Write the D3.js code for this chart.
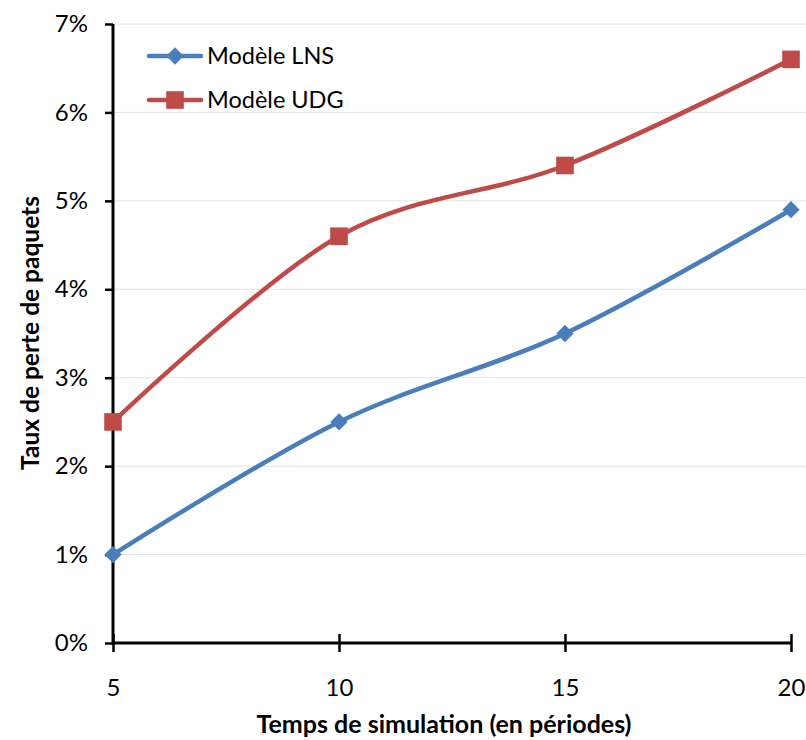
<!DOCTYPE html>
<html><head><meta charset="utf-8">
<script src="https://cdn.jsdelivr.net/npm/d3@7"></script>
<style>body{margin:0;background:#fff}svg{display:block}text{font-family:Lato,"Open Sans",sans-serif;fill:#000}</style>
</head><body><svg id="c" width="806" height="740"></svg>
<script>
const periods = [5, 10, 15, 20];
const lnsValues = [0.010, 0.025, 0.035, 0.049];
const udgValues = [0.025, 0.046, 0.054, 0.066];
const yTicks = [0, 0.01, 0.02, 0.03, 0.04, 0.05, 0.06, 0.07];
const seriesNames = ["Modèle LNS", "Modèle UDG"];
const seriesColors = ["#4a7ebb", "#be4b48"];

const svg = d3.select("#c");
const x = d3.scaleLinear().domain([5, 20]).range([113, 791]);
const y = d3.scaleLinear().domain([0, 0.07]).range([643, 24]);

// gridlines
svg.append("g").selectAll("line").data(yTicks.slice(1)).join("line")
  .attr("x1", 113).attr("x2", 806).attr("y1", d => y(d)).attr("y2", d => y(d))
  .attr("stroke", "#e4e4e4").attr("stroke-width", 1);

// y axis
const ya = svg.append("g").attr("transform", "translate(113,0)")
  .call(d3.axisLeft(y).tickValues(yTicks).tickFormat(d3.format(".0%")).tickSize(8).tickPadding(8));
ya.select(".domain").attr("stroke", "#000").attr("stroke-width", 3).attr("d", `M0,${y(0.07)}V${y(0)}`);
ya.selectAll(".tick line").attr("stroke", "#000").attr("stroke-width", 2.5);
ya.selectAll(".tick text").attr("font-size", 24).attr("font-family", "Lato").attr("dx", -9);

// x axis
const xa = svg.append("g").attr("transform", "translate(0,643)")
  .call(d3.axisBottom(x).tickValues(periods).tickSize(9).tickPadding(27));
xa.select(".domain").attr("stroke", "#000").attr("stroke-width", 3).attr("d", `M${x(5)},0H${x(20)}`);
xa.selectAll(".tick line").attr("stroke", "#000").attr("stroke-width", 2.5).attr("y1", -9);
xa.selectAll(".tick text").attr("font-size", 24).attr("font-family", "Lato");

const line = d3.line().x((d, i) => x(periods[i])).y(d => y(d)).curve(d3.curveCardinal.tension(0));
const allSeries = [lnsValues, udgValues];
const diamond = d3.symbol().type(d3.symbolDiamond2).size(190);
const square = d3.symbol().type(d3.symbolSquare).size(310);

allSeries.forEach((vals, s) => {
  svg.append("path").datum(vals).attr("d", line).attr("fill", "none")
    .attr("stroke", seriesColors[s]).attr("stroke-width", 4.5).attr("stroke-linecap", "round");
  svg.append("g").selectAll("path").data(vals).join("path")
    .attr("transform", (d, i) => `translate(${x(periods[i])},${y(d)})`)
    .attr("d", s === 0 ? diamond() : square())
    .attr("fill", seriesColors[s]);
});

// legend
const legendY = [56, 100];
seriesNames.forEach((n, s) => {
  const g = svg.append("g");
  g.append("line").attr("x1", 149).attr("x2", 201).attr("y1", legendY[s]).attr("y2", legendY[s])
    .attr("stroke", seriesColors[s]).attr("stroke-width", 4.5).attr("stroke-linecap", "round");
  g.append("path").attr("transform", `translate(175,${legendY[s]})`)
    .attr("d", s === 0 ? diamond() : square())
    .attr("fill", seriesColors[s]);
  g.append("text").attr("x", 207).attr("y", legendY[s]).attr("dy", "0.35em")
    .attr("font-size", 23.5).text(n);
});

// axis titles
svg.append("text").attr("x", 444).attr("y", 733).attr("text-anchor", "middle")
  .attr("font-size", 25).attr("font-weight", "bold").text("Temps de simulation (en périodes)");
svg.append("text").attr("transform", "translate(30,333) rotate(-90)").attr("text-anchor", "middle")
  .attr("dy", "0.35em").attr("font-size", 24.5).attr("font-weight", "bold").text("Taux de perte de paquets");
</script></body></html>
